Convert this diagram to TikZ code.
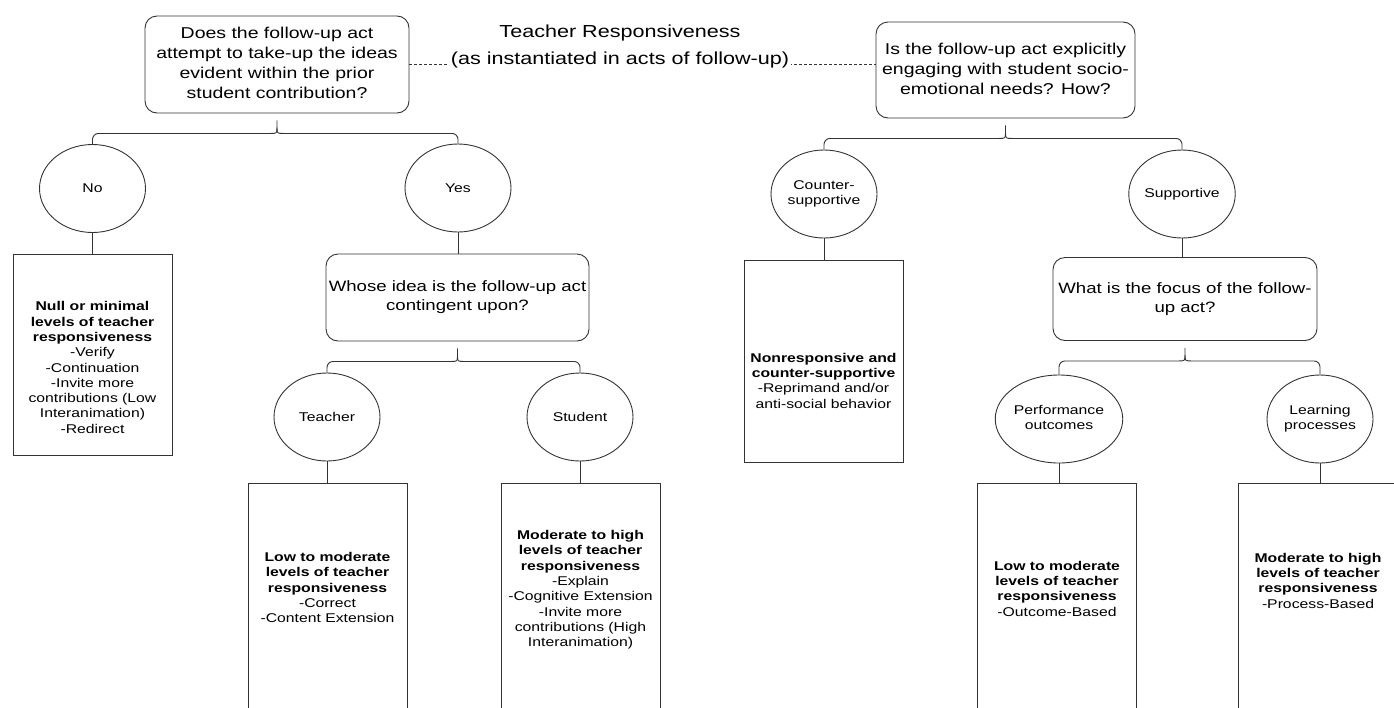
\documentclass[tikz,border=0pt]{standalone}
\usepackage{fontspec}
\setmainfont[FakeStretch=1.24]{Liberation Sans}
\usepackage{tikz}
\usetikzlibrary{shapes,arrows}

\tikzset{
  link/.style={draw=black!80, line width=0.9pt},
  question/.style={link, rectangle, rounded corners=12pt, inner sep=0pt, font=\fontsize{15.7}{20}\selectfont},
  answer/.style={link, ellipse, minimum width=106pt, minimum height=88pt, inner sep=0pt, font=\fontsize{12.7}{15.3}\selectfont},
  outcome/.style={link, rectangle, minimum width=159pt, inner sep=0pt},
  outtext/.style={inner sep=0pt, font=\fontsize{12.7}{15.3}\selectfont},
  heading/.style={fill=white, inner xsep=2pt, inner ysep=5pt, font=\fontsize{17.4}{21}\selectfont},
}

\newcommand{\fork}[3]{%
  \draw[link] ([yshift=-7pt]#1.south) -- ([yshift=-14pt]#1.south) .. controls ([yshift=-20pt]#1.south) .. ([xshift=-7pt,yshift=-20pt]#1.south) [rounded corners=6pt] -| (#2.north);
  \draw[link] ([yshift=-14pt]#1.south) .. controls ([yshift=-20pt]#1.south) .. ([xshift=7pt,yshift=-20pt]#1.south) [rounded corners=6pt] -| (#3.north);
}

\begin{document}
\begin{tikzpicture}[x=1pt, y=-1pt]
    \useasboundingbox (0,0) rectangle (1394,707);
    \clip (0,0) rectangle (1394,707);

    \node[question, minimum width=264pt, minimum height=97pt] (q1) at (277, 64.5) {\begin{tabular}{@{}c@{}}Does the follow-up act\\attempt to take-up the ideas\\evident within the prior\\student contribution?\end{tabular}};
    \node[question, minimum width=259pt, minimum height=96pt] (q3) at (1005.5, 70) {\begin{tabular}{@{}c@{}}Is the follow-up act explicitly\\engaging with student socio-\\emotional needs? How?\end{tabular}};
    \draw[link, line width=0.7pt, dash pattern=on 3pt off 2pt] (q1.east) -- (q1.east -| q3.west);
    \node[heading, anchor=base] (title) at (620, 64) {\begin{tabular}[b]{@{}c@{}}Teacher Responsiveness\\[6pt](as instantiated in acts of follow-up)\end{tabular}};

    \node[answer] (no) at (92.5, 188.5) {No};
    \node[answer] (yes) at (458, 188) {Yes};
    \fork{q1}{no}{yes}

    \node[outcome, minimum height=201pt] (nullbox) at (92.5, 354.5) {};
    \node[outtext] (nulltext) at (92.5, 369) {\begin{tabular}{@{}c@{}}\textbf{Null or minimal}\\\textbf{levels of teacher}\\\textbf{responsiveness}\\-Verify\\-Continuation\\-Invite more\\contributions (Low\\Interanimation)\\-Redirect\end{tabular}};
    \draw[link] (no.south) -- (no.south |- nullbox.north);

    \node[question, font=\fontsize{15}{19}\selectfont, minimum width=263pt, minimum height=87pt] (q2) at (457.5, 297.5) {\begin{tabular}{@{}c@{}}Whose idea is the follow-up act\\contingent upon?\end{tabular}};
    \draw[link] (yes.south) -- (yes.south |- q2.north);

    \node[answer] (teacher) at (327, 417) {Teacher};
    \node[answer] (student) at (580, 417) {Student};
    \fork{q2}{teacher}{student}

    \node[outcome, minimum height=240pt] (teacherbox) at (327.5, 603) {};
    \node[outtext] (teachertext) at (327.5, 589) {\begin{tabular}{@{}c@{}}\textbf{Low to moderate}\\\textbf{levels of teacher}\\\textbf{responsiveness}\\-Correct\\-Content Extension\end{tabular}};
    \draw[link] (teacher.south) -- (teacher.south |- teacherbox.north);

    \node[outcome, minimum height=240pt] (studentbox) at (580.5, 603) {};
    \node[outtext] (studenttext) at (580.5, 590) {\begin{tabular}{@{}c@{}}\textbf{Moderate to high}\\\textbf{levels of teacher}\\\textbf{responsiveness}\\-Explain\\-Cognitive Extension\\-Invite more\\contributions (High\\Interanimation)\end{tabular}};
    \draw[link] (student.south) -- (student.south |- studentbox.north);

    \node[answer] (counter) at (824, 194) {\begin{tabular}{@{}c@{}}Counter-\\supportive\end{tabular}};
    \node[answer] (supportive) at (1182, 194) {Supportive};
    \fork{q3}{counter}{supportive}

    \node[outcome, minimum height=202pt] (counterbox) at (823.5, 361) {};
    \node[outtext] (countertext) at (823.5, 382) {\begin{tabular}{@{}c@{}}\textbf{Nonresponsive and}\\\textbf{counter-supportive}\\-Reprimand and/or\\anti-social behavior\end{tabular}};
    \draw[link] (counter.south) -- (counter.south |- counterbox.north);

    \node[question, font=\fontsize{15}{19}\selectfont, minimum width=264pt, minimum height=83pt] (q4) at (1185, 299) {\begin{tabular}{@{}c@{}}What is the focus of the follow-\\up act?\end{tabular}};
    \draw[link] (supportive.south) -- (supportive.south |- q4.north);

    \node[answer] (performance) at (1059, 419) {\begin{tabular}{@{}c@{}}Performance\\outcomes\end{tabular}};
    \node[answer] (learning) at (1320, 419) {\begin{tabular}{@{}c@{}}Learning\\processes\end{tabular}};
    \fork{q4}{performance}{learning}

    \node[outcome, minimum height=240pt] (performancebox) at (1057, 603) {};
    \node[outtext] (performancetext) at (1057, 590) {\begin{tabular}{@{}c@{}}\textbf{Low to moderate}\\\textbf{levels of teacher}\\\textbf{responsiveness}\\-Outcome-Based\end{tabular}};
    \draw[link] (performance.south) -- (performance.south |- performancebox.north);

    \node[outcome, minimum height=240pt] (learningbox) at (1318, 603) {};
    \node[outtext] (learningtext) at (1318, 582) {\begin{tabular}{@{}c@{}}\textbf{Moderate to high}\\\textbf{levels of teacher}\\\textbf{responsiveness}\\-Process-Based\end{tabular}};
    \draw[link] (learning.south) -- (learning.south |- learningbox.north);
  \end{tikzpicture}
\end{document}
